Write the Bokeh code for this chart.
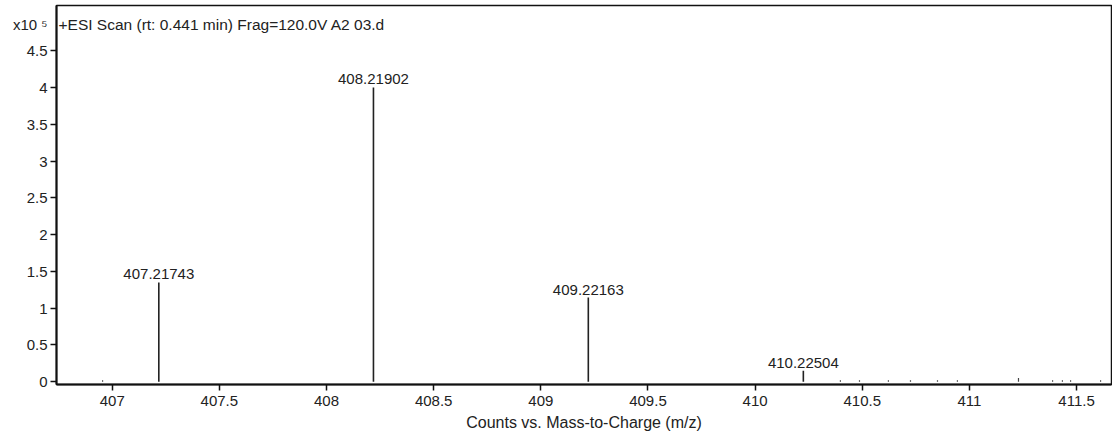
from bokeh.plotting import figure
from bokeh.models import ColumnDataSource, Label, FixedTicker, NumeralTickFormatter
from bokeh.embed import file_html
from bokeh.resources import INLINE
from bokeh.core.properties import value

# ---- data (m/z, counts x10^5) ----
peak_mz = [407.21743, 408.21902, 409.22163, 410.22504]
peak_int = [1.35, 4.00, 1.145, 0.15]
peak_labels = ["407.21743", "408.21902", "409.22163", "410.22504"]

noise_mz = [406.955, 410.398, 410.487, 410.622, 410.725, 410.851, 410.944,
            411.229, 411.388, 411.434, 411.472, 411.612]
noise_int = [0.02, 0.02, 0.02, 0.02, 0.02, 0.02, 0.02,
             0.05, 0.02, 0.02, 0.02, 0.02]

x_ticks = [407, 407.5, 408, 408.5, 409, 409.5, 410, 410.5, 411, 411.5]
y_ticks = [0, 0.5, 1, 1.5, 2, 2.5, 3, 3.5, 4, 4.5]
y_scale_pos = 4.85
y_scale_text = "x10 \u2075"

title_text = "+ESI Scan (rt: 0.441 min) Frag=120.0V A2 03.d"
x_label = "Counts vs. Mass-to-Charge (m/z)"

FONT = "Liberation Sans"
TXT = "#222222"
X0, X1 = 406.740, 411.663
Y0, Y1 = -0.037, 5.113

p = figure(width=1112, height=436, output_backend="svg", toolbar_location=None,
           x_range=(X0, X1), y_range=(Y0, Y1),
           min_border_left=56, min_border_right=1, min_border_top=5,
           min_border_bottom=52)
p.grid.visible = False
p.background_fill_color = "white"
p.border_fill_color = "white"
p.outline_line_color = "#111111"
p.outline_line_width = 1.5

src = ColumnDataSource(dict(x=peak_mz, y=peak_int, y0=[0] * len(peak_mz), lab=peak_labels))
nsrc = ColumnDataSource(dict(x=noise_mz, y=noise_int, y0=[0] * len(noise_mz)))

p.segment(x0="x", y0="y0", x1="x", y1="y", source=src, line_color="#222222", line_width=1.6)
p.segment(x0="x", y0="y0", x1="x", y1="y", source=nsrc, line_color="#444444", line_width=1.2)
p.text(x="x", y="y", text="lab", source=src, text_align="center", text_baseline="bottom",
       y_offset=-3, text_font=value(FONT), text_font_size="15px", text_color=TXT)

for ax in (p.xaxis[0], p.yaxis[0]):
    ax.axis_line_color = "#111111"
    ax.axis_line_width = 2
    ax.major_tick_line_color = "#111111"
    ax.major_tick_line_width = 1.5
    ax.minor_tick_line_color = None
    ax.major_tick_in = 0
    ax.major_label_text_font = FONT
    ax.major_label_text_font_size = "15px"
    ax.major_label_text_color = TXT
    ax.formatter = NumeralTickFormatter(format="0.[0]")

p.xaxis.ticker = FixedTicker(ticks=x_ticks)
p.xaxis.major_tick_out = 6
p.xaxis.major_label_standoff = 5

# y axis: visible tick marks as "minor" ticks, labels (incl. the x10^5 scale) as majors
p.yaxis.ticker = FixedTicker(ticks=y_ticks + [y_scale_pos], minor_ticks=y_ticks)
p.yaxis.major_tick_line_color = None
p.yaxis.minor_tick_line_color = "#111111"
p.yaxis.minor_tick_line_width = 1.5
p.yaxis.minor_tick_in = 0
p.yaxis.minor_tick_out = 6
p.yaxis.major_tick_out = 6
p.yaxis.major_label_standoff = 3
p.yaxis.major_label_overrides = {y_scale_pos: y_scale_text}

p.xaxis.axis_label = x_label
p.xaxis.axis_label_text_font = FONT
p.xaxis.axis_label_text_font_size = "16px"
p.xaxis.axis_label_text_font_style = "normal"
p.xaxis.axis_label_text_color = TXT
p.xaxis.axis_label_standoff = 5

p.add_layout(Label(x=X0, y=y_scale_pos, x_offset=2, text=title_text,
                   text_baseline="middle", text_font=FONT, text_font_size="15.5px",
                   text_color=TXT))

open("out.html", "w").write(file_html(p, INLINE))
